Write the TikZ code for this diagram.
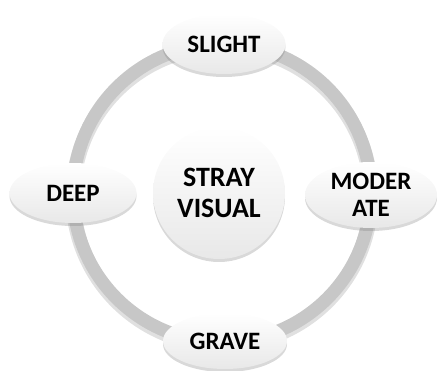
\documentclass[tikz,border=0pt]{standalone}
\usepackage{fontspec}
\setmainfont{Carlito}
\usetikzlibrary{shapes.geometric,shadows,shadings}
\begin{document}
\begin{tikzpicture}[x=1pt,y=1pt,
  oval/.style={ellipse, inner sep=0pt, top color=white, bottom color=black!9,
    draw=none, font=\bfseries\fontsize{25}{27}\selectfont, text=black,
    drop shadow={opacity=0.3, shadow xshift=0pt, shadow yshift=-3pt}},
  hub/.style={circle, inner sep=0pt, minimum size=132pt, top color=white, bottom color=black!9,
    font=\bfseries\fontsize{28}{31}\selectfont, text=black, align=center,
    drop shadow={opacity=0.3, shadow xshift=0pt, shadow yshift=-3pt}},
  ringshadow/.style={line width=15pt, draw=black, opacity=0.12},
  ringline/.style={line width=13pt, draw=black!22}]
\useasboundingbox (0,0) rectangle (439,-371);
\coordinate (rc) at (222,-193);
\coordinate (rcs) at (222,-196);
\draw[ringshadow] (rcs) circle (149);
\draw[ringline] (rc) circle (149);
\node[hub] (c) at (219,-193) {STRAY\\VISUAL};
\node[oval, minimum width=123pt, minimum height=60pt] (s) at (224,-44) {SLIGHT};
\node[oval, minimum width=127pt, minimum height=60pt] (d) at (73,-193) {DEEP};
\node[oval, minimum width=132pt, minimum height=66pt, align=center, font=\bfseries\fontsize{25}{27}\selectfont] (m) at (371,-195) {MODER\\ATE};
\node[oval, minimum width=124pt, minimum height=56pt] (g) at (225,-341) {GRAVE};
\end{tikzpicture}
\end{document}
